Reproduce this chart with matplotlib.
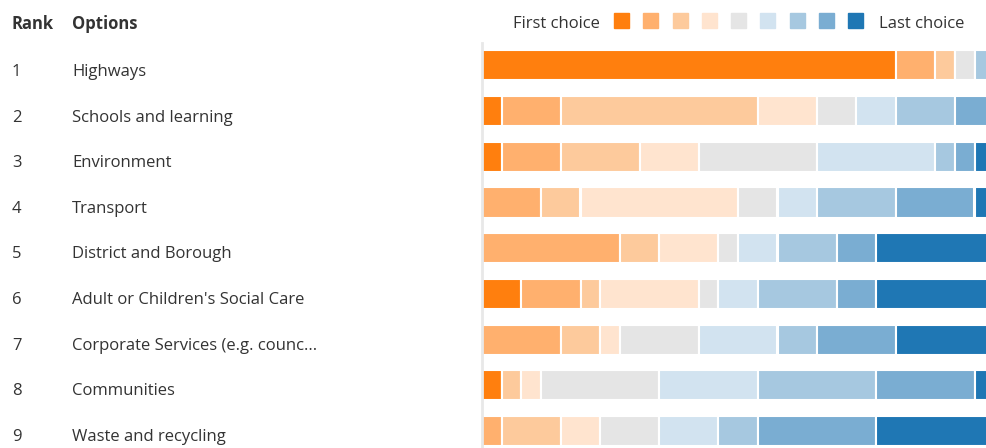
import matplotlib.pyplot as plt
from matplotlib.patches import Rectangle
import numpy as np

plt.rcParams['font.family'] = ['Open Sans', 'DejaVu Sans']

ranks = [1, 2, 3, 4, 5, 6, 7, 8, 9]
options = ['Highways', 'Schools and learning', 'Environment', 'Transport',
           'District and Borough', "Adult or Children's Social Care",
           'Corporate Services (e.g. counc...', 'Communities',
           'Waste and recycling']

# number of respondents giving each option choice 1 (first) .. 9 (last)
highways = [21, 2, 1, 0, 1, 0, 2, 0, 0]
schools = [1, 3, 10, 3, 2, 2, 3, 3, 0]
environment = [1, 3, 4, 3, 6, 6, 1, 1, 2]
transport = [0, 3, 2, 8, 2, 2, 4, 4, 2]
district = [0, 7, 2, 3, 1, 2, 3, 2, 7]
social_care = [2, 3, 1, 5, 1, 2, 4, 2, 7]
corporate = [0, 4, 2, 1, 4, 4, 2, 4, 6]
communities = [1, 0, 1, 1, 6, 5, 6, 5, 2]
waste = [0, 1, 3, 2, 3, 3, 2, 6, 7]

colors = ['#ff7f0e', '#ffb06e', '#fdca9c', '#ffe4cf', '#e5e5e5',
          '#d2e3f0', '#a6c8e0', '#7aadd2', '#1f77b4']

data = np.array([highways, schools, environment, transport, district,
                 social_care, corporate, communities, waste])

W, H = 987, 448
fig = plt.figure(figsize=(W / 100, H / 100), dpi=100)
ax = fig.add_axes([482 / W, 0, 1 - 482 / W, 1 - 43 / H])

y = np.arange(len(options))
left = np.zeros(len(options))
for k in range(data.shape[1]):
    ax.barh(y, data[:, k], left=left, height=0.66, color=colors[k],
            edgecolor='white', linewidth=1.5)
    left += data[:, k]

ax.set_xlim(0, 505 / 19.7)
ax.set_ylim(8.37, -0.49)
for s in ['top', 'right', 'bottom']:
    ax.spines[s].set_visible(False)
ax.spines['left'].set_color('#e8e8e8')
ax.spines['left'].set_linewidth(2)
ax.set_xticks([])
ax.set_yticks([])

txt = '#333333'
fs = 12
fig.text(12 / W, 1 - 29 / H, 'Rank', fontsize=fs, fontweight='bold', color=txt, va='baseline')
fig.text(72 / W, 1 - 29 / H, 'Options', fontsize=fs, fontweight='bold', color=txt, va='baseline')
for i, (r, o) in enumerate(zip(ranks, options)):
    base = 76 + 45.6 * i
    fig.text(12 / W, 1 - base / H, str(r), fontsize=fs, color=txt, va='baseline')
    fig.text(72 / W, 1 - base / H, o, fontsize=fs, color=txt, va='baseline')

# legend
fig.text(600 / W, 1 - 28.5 / H, 'First choice', fontsize=fs, color=txt,
         va='baseline', ha='right')
for k, c in enumerate(colors):
    x0 = 614 + 29.3 * k
    fig.patches.append(Rectangle((x0 / W, 1 - 28.5 / H), 15 / W, 15 / H,
                                 transform=fig.transFigure, color=c))
fig.text(879 / W, 1 - 28.5 / H, 'Last choice', fontsize=fs, color=txt, va='baseline')

fig.savefig('out.png', dpi=100)
